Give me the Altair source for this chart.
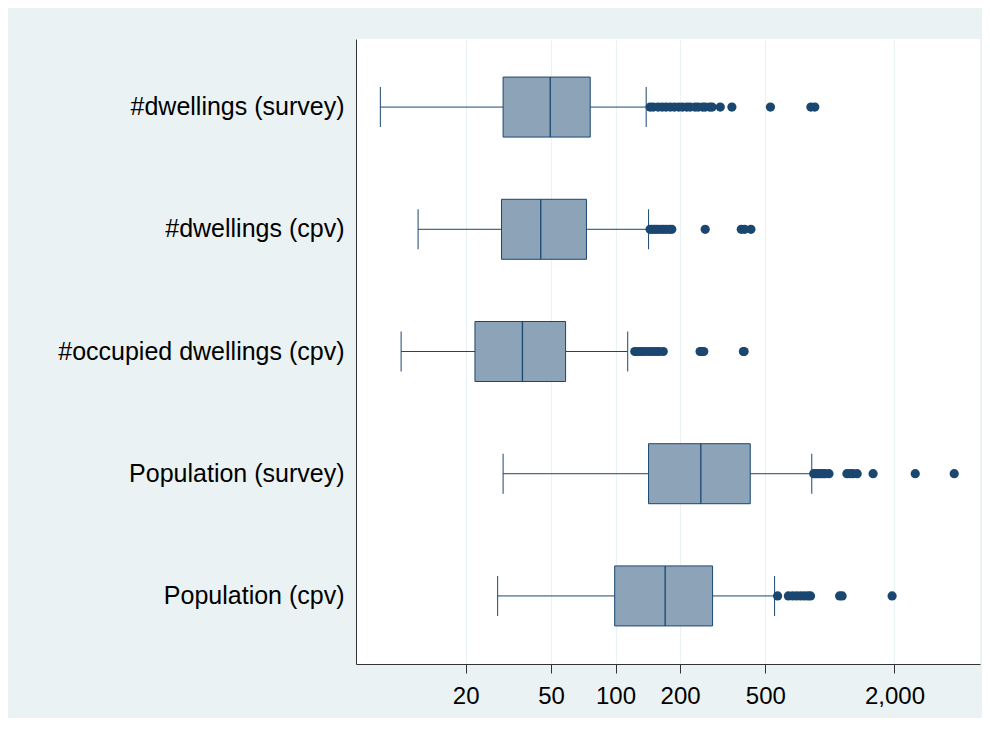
import altair as alt
import pandas as pd

categories = ["#dwellings (survey)", "#dwellings (cpv)", "#occupied dwellings (cpv)",
              "Population (survey)", "Population (cpv)"]
whisker_low = [8.0, 12.0, 10.0, 29.9, 28.2]
quartile1 = [29.9, 29.4, 22.1, 142.6, 99.1]
medians = [49.6, 44.8, 36.8, 250, 170.4]
quartile3 = [76.2, 73.2, 58.5, 425, 283.6]
whisker_high = [139, 142.6, 114, 823, 552]

outliers_dw_survey = [145, 150, 158, 165, 172, 180, 188, 197, 205, 215, 223, 235, 243,
                      255, 262, 275, 282, 308, 349, 528, 815, 850]
outliers_dw_cpv = [145, 149, 153, 157, 162, 167, 172, 178, 183, 262, 386, 400, 428]
outliers_occ_cpv = [123, 127, 131, 135, 140, 145, 150, 155, 160, 167, 248, 252, 258, 395, 398]
outliers_pop_survey = [840, 860, 880, 900, 925, 950, 990, 1200, 1240, 1280, 1340, 1590, 2500, 3800]
outliers_pop_cpv = [570, 640, 670, 700, 730, 760, 790, 812, 1110, 1140, 1950]

x_ticks = [20, 50, 100, 200, 500, 2000]

NAVY = "#1A476F"
BOX_FILL = "#8DA3B8"
BG = "#EAF2F3"

stats = pd.DataFrame({
    "cat": categories,
    "lo": whisker_low,
    "q1": quartile1,
    "med": medians,
    "q3": quartile3,
    "hi": whisker_high,
})

out_lists = [outliers_dw_survey, outliers_dw_cpv, outliers_occ_cpv,
             outliers_pop_survey, outliers_pop_cpv]
outliers = pd.DataFrame(
    [{"cat": c, "v": v} for c, lst in zip(categories, out_lists) for v in lst]
)

xscale = alt.Scale(type="log", domain=[6.16, 5012], nice=False)
xaxis = alt.Axis(values=x_ticks, format=",", grid=True, gridColor=BG, gridWidth=1,
                 tickColor="#333333", tickSize=9, labelFontSize=24, labelPadding=11,
                 labelColor="black", domainColor="#333333", title=None,
                 labelFont="Liberation Sans")
yenc = alt.Y("cat:N", sort=categories,
             scale=alt.Scale(paddingInner=0, paddingOuter=0.057),
             axis=alt.Axis(title=None, ticks=False, labelFontSize=25, labelPadding=12,
                           labelColor="black", domainColor="#333333", labelLimit=400,
                           labelFont="Liberation Sans", grid=False))

base = alt.Chart(stats)

whisker = base.mark_rule(color=NAVY, strokeWidth=1).encode(
    x=alt.X("lo:Q", scale=xscale, axis=xaxis), x2="hi:Q", y=yenc)

box = base.mark_bar(size=60, fill=BOX_FILL, stroke=NAVY, strokeWidth=1).encode(
    x=alt.X("q1:Q", scale=xscale, axis=xaxis), x2="q3:Q", y=yenc)

median = base.mark_tick(size=60, thickness=1.3, color=NAVY, opacity=1).encode(
    x=alt.X("med:Q", scale=xscale, axis=xaxis), y=yenc)

cap_lo = base.mark_tick(size=40, thickness=1, color=NAVY, opacity=1).encode(
    x=alt.X("lo:Q", scale=xscale, axis=xaxis), y=yenc)

cap_hi = base.mark_tick(size=40, thickness=1, color=NAVY, opacity=1).encode(
    x=alt.X("hi:Q", scale=xscale, axis=xaxis), y=yenc)

pts = alt.Chart(outliers).mark_circle(size=85, color=NAVY, opacity=1).encode(
    x=alt.X("v:Q", scale=xscale, axis=xaxis), y=yenc)

chart = alt.layer(whisker, box, median, cap_lo, cap_hi, pts).properties(
    width=624, height=625,
    autosize=alt.AutoSizeParams(type="none"),
    padding={"left": 348, "top": 31, "right": 2, "bottom": 54},
    background=BG,
).configure_view(fill="white", strokeWidth=0)

chart.save("out.html", embed_options={"renderer": "svg", "actions": False})
